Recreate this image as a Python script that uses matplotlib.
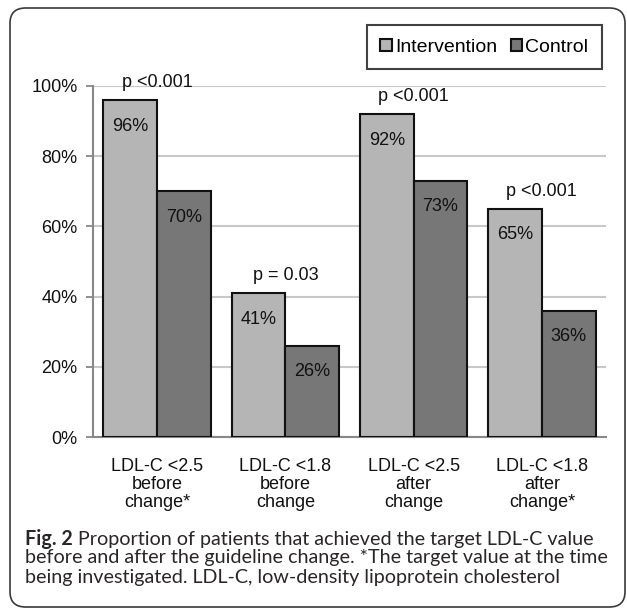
import numpy as np
import matplotlib
matplotlib.use("Agg")
import matplotlib.pyplot as plt
from matplotlib.patches import FancyBboxPatch

# data
categories = ["LDL-C <2.5\nbefore\nchange*", "LDL-C <1.8\nbefore\nchange",
              "LDL-C <2.5\nafter\nchange", "LDL-C <1.8\nafter\nchange*"]
intervention = [96, 41, 92, 65]
control = [70, 26, 73, 36]
p_values = ["p <0.001", "p = 0.03", "p <0.001", "p <0.001"]
y_ticks = [0, 20, 40, 60, 80, 100]

plt.rcParams['font.family'] = ['Liberation Sans', 'DejaVu Sans']

fig = plt.figure(figsize=(6.27, 6.11), dpi=100)
W, H = 627, 611

# rounded frame around the whole figure
frame = FancyBboxPatch((10 / W, 1 - 607 / H), 615 / W, 599 / H,
                       boxstyle="round,pad=0,rounding_size=0.025",
                       transform=fig.transFigure, facecolor="none",
                       edgecolor="#3a3a3a", linewidth=1.2)
fig.patches.append(frame)

ax = fig.add_axes([93 / W, 1 - 437 / H, 513 / W, 351 / H])

x = np.arange(len(categories))
w = 0.42
ax.bar(x - w / 2, intervention, w, color="#b5b5b5", edgecolor="#111111",
       linewidth=1.5, label="Intervention", zorder=3)
ax.bar(x + w / 2, control, w, color="#777777", edgecolor="#111111",
       linewidth=1.5, label="Control", zorder=3)

for i in range(len(categories)):
    ax.text(x[i] - w / 2, intervention[i] - 7.4, f"{intervention[i]}%",
            ha="center", va="center", fontsize=13, color="#111111", zorder=4)
    ax.text(x[i] + w / 2, control[i] - 7.4, f"{control[i]}%",
            ha="center", va="center", fontsize=13, color="#111111", zorder=4)
    top = max(intervention[i], control[i])
    ax.text(x[i], top + 5.0, p_values[i], ha="center", va="center",
            fontsize=13, color="#111111", zorder=4, clip_on=False)

ax.set_xlim(-0.5, 3.5)
ax.set_ylim(0, 100)
ax.set_yticks(y_ticks)
ax.set_yticklabels([f"{v}%" for v in y_ticks], fontsize=13, color="#111111")
ax.set_xticks(x)
ax.set_xticklabels(categories, fontsize=13, color="#111111", linespacing=1.1)
ax.tick_params(axis="x", length=0, pad=15)
ax.tick_params(axis="y", length=5, width=1.3, color="#888888", pad=6)
ax.yaxis.grid(True, color="#c8c8c8", linewidth=1.5, zorder=0)
ax.set_axisbelow(True)
for s in ["top", "right"]:
    ax.spines[s].set_visible(False)
for s in ["left", "bottom"]:
    ax.spines[s].set_color("#888888")
    ax.spines[s].set_linewidth(1.5)

leg = ax.legend(loc="upper right", bbox_to_anchor=(602 / W, 1 - 25 / H),
                bbox_transform=fig.transFigure, ncol=2, fontsize=14,
                frameon=True, fancybox=False, borderaxespad=0,
                handlelength=0.6, handleheight=0.6, handletextpad=0.15,
                columnspacing=0.7, borderpad=0.7)
leg.get_frame().set_edgecolor("#111111")
leg.get_frame().set_linewidth(1.5)

# caption
cap_fs = 14.2
cap_kw = dict(fontsize=cap_fs, color="#2a2627", family=["Lato", "DejaVu Sans"],
              va="center", ha="left")
t1 = fig.text(25 / W, 1 - 539 / H, "Fig. 2", fontweight="bold", **cap_kw)
ax.annotate(" Proportion of patients that achieved the target LDL-C value",
            xy=(1, 0.5), xycoords=t1, fontsize=cap_fs, color="#2a2627",
            family=["Lato", "DejaVu Sans"], va="center", ha="left",
            annotation_clip=False)
fig.text(25 / W, 1 - 558 / H,
         "before and after the guideline change. *The target value at the time",
         **cap_kw)
fig.text(25 / W, 1 - 577 / H,
         "being investigated. LDL-C, low-density lipoprotein cholesterol",
         **cap_kw)

fig.savefig("out.png", dpi=100, facecolor="white")
